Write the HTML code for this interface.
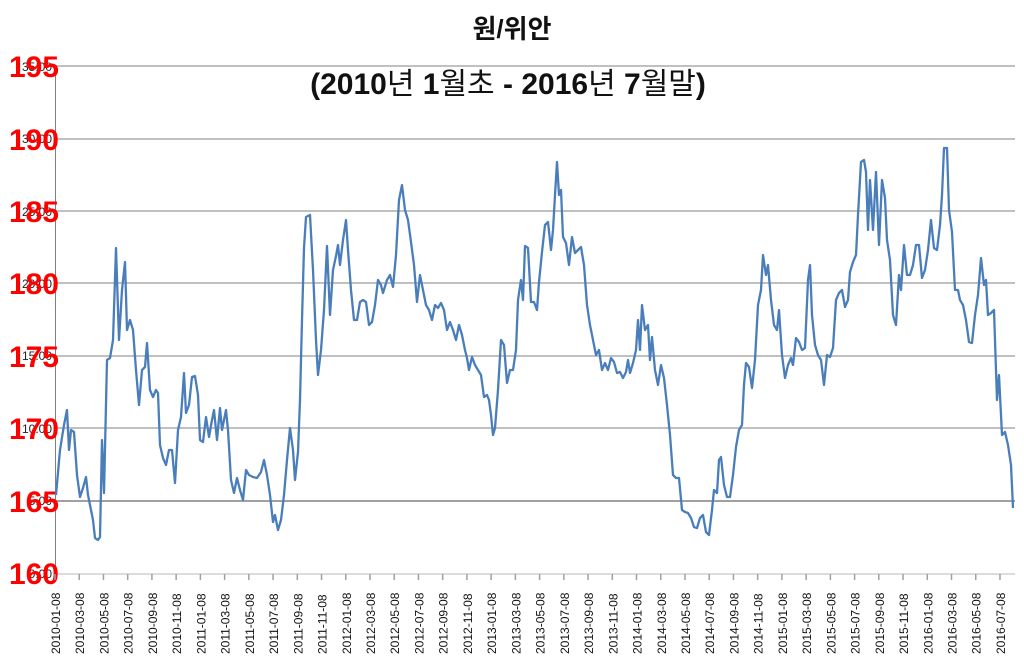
<!DOCTYPE html>
<html><head><meta charset="utf-8"><style>
body{margin:0;background:#fff;}
svg{display:block;}
</style></head><body>
<svg width="1024" height="665" xmlns="http://www.w3.org/2000/svg" font-family="Liberation Sans, Noto Sans CJK KR, sans-serif">
<rect width="1024" height="665" fill="#fff"/>
<g stroke="#c0c0c0" stroke-width="2">
<line x1="55" y1="66" x2="1015" y2="66"/><line x1="55" y1="139" x2="1015" y2="139"/><line x1="55" y1="211" x2="1015" y2="211"/><line x1="55" y1="283" x2="1015" y2="283"/><line x1="55" y1="356" x2="1015" y2="356"/><line x1="55" y1="428" x2="1015" y2="428"/>
</g>
<line x1="55" y1="501" x2="1015" y2="501" stroke="#808080" stroke-width="1.5"/>
<line x1="55" y1="574" x2="1015" y2="574" stroke="#d0d0d0" stroke-width="1.5"/>
<line x1="55.5" y1="66" x2="55.5" y2="574" stroke="#808080" stroke-width="1"/>
<g font-size="12" fill="#222" text-anchor="end">
<text x="52" y="71">35.00</text><text x="52" y="143">30.00</text><text x="52" y="216">25.00</text><text x="52" y="288">20.00</text><text x="52" y="360">15.00</text><text x="52" y="433">10.00</text><text x="52" y="505">5.00</text><text x="52" y="578">0.00</text>
</g>
<g font-size="30" font-weight="bold" fill="#ff0000" text-anchor="end">
<text x="59" y="77">195</text><text x="59" y="150">190</text><text x="59" y="222">185</text><text x="59" y="294">180</text><text x="59" y="367">175</text><text x="59" y="439">170</text><text x="59" y="512">165</text><text x="59" y="584">160</text>
</g>
<text x="512" y="38" font-size="26" font-weight="bold" text-anchor="middle" fill="#111">원/위안</text>
<text x="508" y="94" font-size="30" text-anchor="middle" fill="#111"><tspan font-weight="bold">(2010</tspan>년 <tspan font-weight="bold">1</tspan>월초 <tspan font-weight="bold">- 2016</tspan>년 <tspan font-weight="bold">7</tspan>월말<tspan font-weight="bold">)</tspan></text>
<g id="ticks" stroke="#a0a0a0" stroke-width="1.5"></g>
<g id="xl" font-size="12" fill="#111"></g>
<polyline fill="none" stroke="#4a7ebb" stroke-width="2.3" stroke-linejoin="round" points="56,495 60,450 64,425 67,410 69,450 71,430 74,432 77,475 80,497 83,488 86,477 88,495 91,510 93,520 95,538 98,540 100,537 102,440 104,493 107,360 110,358 113,340 116,248 119,340 122,290 125,262 127,330 130,320 133,330 136,370 139,405 142,370 145,367 147,343 150,390 153,397 156,390 158,393 160,445 163,458 166,465 169,450 172,450 175,483 178,430 181,417 184,373 186,413 189,405 192,377 195,376 198,395 200,440 203,442 206,417 209,437 212,420 214,410 217,440 220,408 222,430 226,410 228,430 231,480 234,493 237,478 240,490 243,500 246,470 249,475 253,477 257,478 261,472 264,460 267,475 270,495 273,522 275,515 278,530 281,520 284,495 287,460 290,428 293,450 295,480 298,452 300,400 302,320 304,248 306,217 310,215 313,270 316,340 318,375 321,350 324,310 327,246 330,315 333,270 336,256 338,245 340,265 343,240 346,220 348,250 351,290 354,320 357,320 360,302 363,300 366,302 369,325 372,322 375,305 378,280 381,285 383,293 387,280 390,275 393,287 396,255 399,200 402,185 405,210 408,220 411,242 414,265 417,302 420,275 423,290 426,305 429,310 432,320 435,305 438,308 441,303 444,310 447,330 450,322 453,330 456,340 459,325 462,335 465,350 467,358 469,370 472,357 475,365 478,370 481,375 484,397 487,395 489,400 491,415 493,435 495,428 498,390 501,340 504,345 507,383 510,370 513,370 516,350 518,300 521,280 523,300 525,246 528,248 531,302 534,302 537,310 539,282 542,252 545,225 548,222 551,250 553,230 555,195 557,162 559,195 561,190 563,237 566,243 569,265 572,237 575,253 578,250 581,247 584,265 587,305 590,325 593,340 596,355 599,350 602,370 605,363 608,370 611,358 614,362 617,373 620,372 623,378 626,372 628,360 630,373 633,363 636,350 638,320 640,350 642,305 645,330 648,325 650,360 652,337 655,370 658,385 661,365 664,378 667,405 670,435 673,475 676,478 679,478 682,510 685,512 688,513 691,518 694,527 697,528 700,518 703,515 706,532 709,535 712,510 714,490 717,493 719,460 721,457 724,485 727,497 730,497 733,475 736,447 739,430 742,425 744,385 746,363 749,367 752,388 755,360 758,305 761,290 763,255 766,275 768,265 771,300 774,325 777,330 779,310 782,355 785,378 788,365 791,358 793,365 796,338 799,342 802,350 805,348 808,280 810,265 812,315 815,345 818,355 821,360 824,385 827,355 830,357 833,348 836,300 839,293 842,290 845,307 848,300 850,272 853,262 856,255 858,215 861,162 864,160 866,172 868,230 870,180 873,230 876,172 879,245 882,180 885,198 887,240 890,260 893,315 896,325 899,275 901,290 904,245 907,275 910,275 913,265 916,245 919,245 922,278 925,270 928,250 931,220 934,248 937,250 940,225 942,195 944,148 947,148 949,210 952,232 955,290 958,290 960,300 963,305 966,320 969,342 972,343 975,315 978,295 981,258 984,285 986,280 988,315 991,313 994,310 997,400 999,375 1002,435 1005,432 1008,445 1011,465 1013,508"/>
<script>
(function(){
var ns="http://www.w3.org/2000/svg",t=document.getElementById("ticks"),xl=document.getElementById("xl");
for(var i=0;i<40;i++){
 var x=55+i*24.23;
 var l=document.createElementNS(ns,"line");
 l.setAttribute("x1",x);l.setAttribute("x2",x);l.setAttribute("y1",574);l.setAttribute("y2",580);t.appendChild(l);
 var y=2010+Math.floor(i/6),m=(i%6)*2+1;
 var s=y+"-"+(m<10?"0":"")+m+"-08";
 var tx=document.createElementNS(ns,"text");
 tx.setAttribute("transform","translate("+(x+5)+",654) rotate(-90)");
 tx.textContent=s;xl.appendChild(tx);
}
})();
</script>
</svg>
</body></html>
